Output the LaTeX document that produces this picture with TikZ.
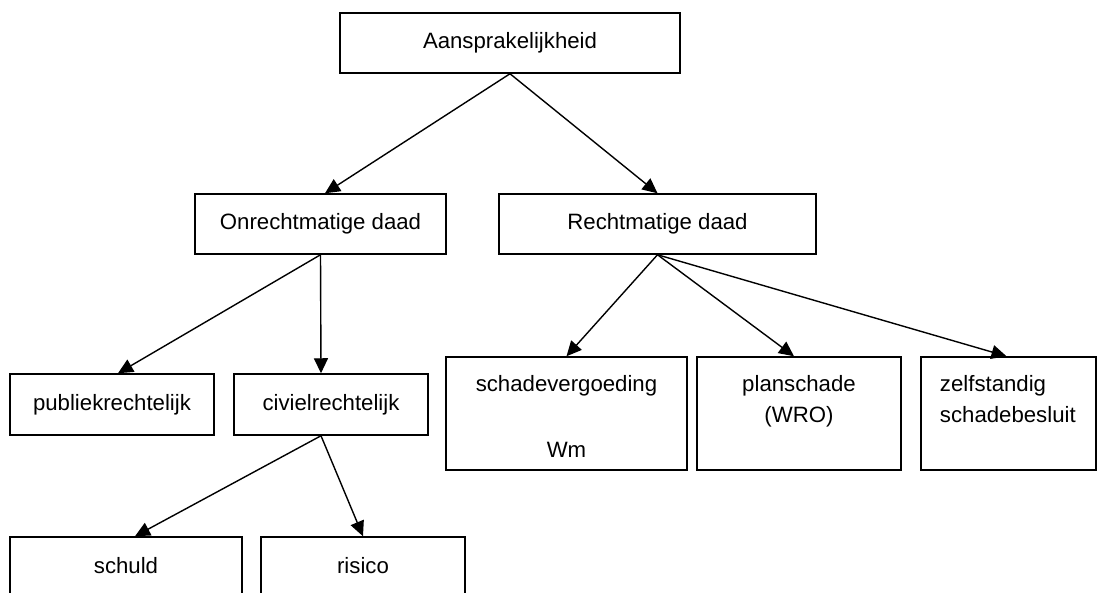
\documentclass[tikz,border=0pt]{standalone}
\usepackage{fontspec}
\setmainfont{Liberation Sans}
\usetikzlibrary{arrows.meta}
\begin{document}
\begin{tikzpicture}[x=1pt,y=-1pt,
  box/.style={draw, line width=1.5pt, rectangle, inner sep=0pt,
    font=\fontsize{22.2}{31.3}\selectfont, text height=16pt, text depth=5pt},
  lbl/.style={inner sep=0pt, font=\fontsize{22.2}{31.3}\selectfont},
  arr/.style={line width=1.4pt, -{Triangle[length=15pt,width=14pt]}}]
\fill[white] (0,0) rectangle (1097,592);
\useasboundingbox (0,0) rectangle (1097,592);
\clip (0,0) rectangle (1097,592);

\node[box, minimum width=340pt, minimum height=60pt] (top) at (510,43) {Aansprakelijkheid};
\node[box, minimum width=251pt, minimum height=60pt] (onr) at (320.5,224) {Onrechtmatige daad};
\node[box, minimum width=317pt, minimum height=60pt] (rec) at (657.5,224) {Rechtmatige daad};
\node[box, minimum width=204pt, minimum height=61pt] (pub) at (112,404.5) {publiekrechtelijk};
\node[box, minimum width=194pt, minimum height=61pt] (civ) at (331,404.5) {civielrechtelijk};
\node[box, minimum width=232pt, minimum height=61pt] (sch) at (126,567.5) {schuld};
\node[box, minimum width=204pt, minimum height=61pt] (ris) at (363,567.5) {risico};
\node[box, minimum width=241pt, minimum height=113pt] (sv) at (566.5,413.5) {};
\node[box, minimum width=204pt, minimum height=113pt] (pl) at (799,413.5) {};
\node[box, minimum width=175pt, minimum height=113pt] (zs) at (1008.5,413.5) {};

\node[lbl, anchor=north, align=center] (svt) at ([yshift=-13.1pt]sv.north) {\strut schadevergoeding\\[34.7pt]Wm};
\node[lbl, anchor=north, align=center] (plt) at ([yshift=-13.1pt]pl.north) {\strut planschade\\(WRO)};
\node[lbl, anchor=north west, align=left] (zst) at ([xshift=19.5pt,yshift=-13.1pt]zs.north west) {\strut zelfstandig\\schadebesluit};

\draw[arr] (top.south) -- ([xshift=4.5pt]onr.north);
\draw[arr] (top.south) -- (rec.north);
\draw[arr] (onr.south) -- ([xshift=6pt]pub.north);
\draw[arr] (onr.south) -- ([xshift=-10pt]civ.north);
\draw[arr] ([xshift=-10pt]civ.south) -- ([xshift=9pt]sch.north);
\draw[arr] ([xshift=-10pt]civ.south) -- (ris.north);
\draw[arr] (rec.south) -- (sv.north);
\draw[arr] (rec.south) -- ([xshift=-5pt]pl.north);
\draw[arr] (rec.south) -- ([xshift=-2pt]zs.north);
\end{tikzpicture}
\end{document}
